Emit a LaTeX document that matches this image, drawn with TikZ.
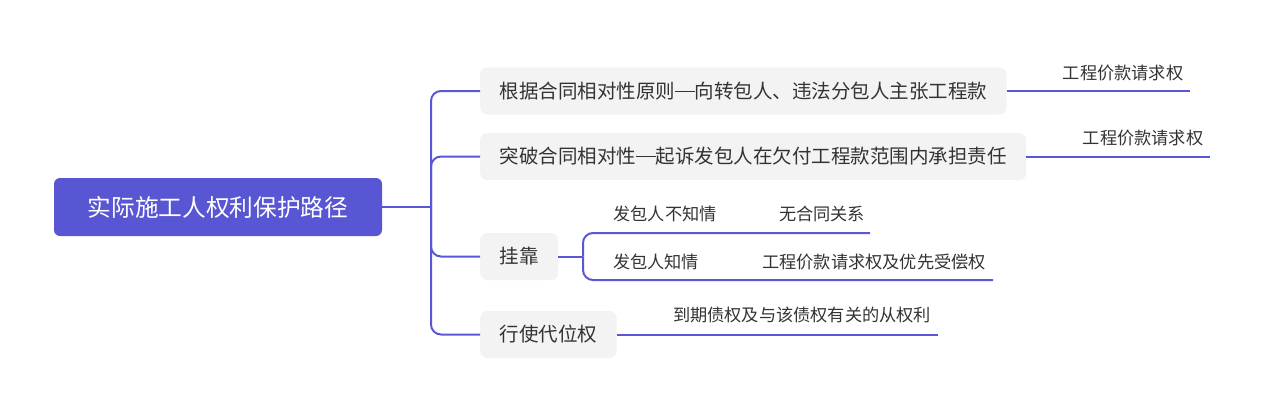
\documentclass[tikz,border=0pt]{standalone}
\usepackage{fontspec}
\setmainfont{Noto Sans CJK SC}
\definecolor{rootc}{HTML}{5956D4}
\definecolor{linec}{HTML}{5A57D6}
\definecolor{boxc}{HTML}{F3F3F3}
\definecolor{txt}{HTML}{333333}
\newcommand{\cjkdash}{\rule[0.34em]{1em}{0.065em}}
\tikzset{
  rootbox/.style={fill=rootc, rounded corners=6pt, text=white, minimum width=328pt, minimum height=58pt, inner sep=0pt, font=\fontsize{23.7}{24}\selectfont},
  topic/.style={fill=boxc, rounded corners=7pt, text=txt, minimum height=47pt, inner xsep=19.5pt, inner ysep=0pt, anchor=west, font=\fontsize{19.5}{20}\selectfont},
  leaf/.style={text=txt, inner sep=0pt, font=\fontsize{17.2}{18}\selectfont},
  conn/.style={draw=linec, line width=2pt, rounded corners=10pt},
}
\begin{document}
\begin{tikzpicture}[x=1pt,y=-1pt]
\useasboundingbox (0,0) rectangle (1264,415);
% root
\node[rootbox] (root) at (218,207) {实际施工人权利保护路径};
% topics
\node[topic] (b1) at (480,91) {根据合同相对性原则\cjkdash 向转包人、违法分包人主张工程款};
\node[topic] (b2) at (480,156.5) {突破合同相对性\cjkdash 起诉发包人在欠付工程款范围内承担责任};
\node[topic] (b3) at (480,256.5) {挂靠};
\node[topic] (b4) at (480,334.5) {行使代位权};
% trunk
\coordinate (trunk) at (431,207);
\draw[conn] (root.east) -- (trunk);
\draw[conn] (trunk) |- (b1.west);
\draw[conn] (trunk) |- (b2.west);
\draw[conn] (trunk) |- (b3.west);
\draw[conn] (trunk) |- (b4.west);
% leaves of b1, b2
\node[leaf] (l1) at (1123,73) {工程价款请求权};
\coordinate (l1e) at (1190,91);
\draw[conn] (b1.east) -- (l1e);
\node[leaf] (l2) at (1143,138) {工程价款请求权};
\coordinate (l2e) at (1210,156.5);
\draw[conn] (b2.east) -- (l2e);
% sub-branches of b3
\coordinate (j3) at (583,256.5);
\draw[conn] (b3.east) -- (j3);
\node[leaf] (s1) at (665,214) {发包人不知情};
\node[leaf] (c1) at (822,214) {无合同关系};
\coordinate (c1e) at (870,233);
\draw[conn] (j3) |- (c1e);
\node[leaf] (s2) at (656,262) {发包人知情};
\node[leaf] (c2) at (874,262) {工程价款请求权及优先受偿权};
\coordinate (c2e) at (993,280);
\draw[conn] (j3) |- (c2e);
% leaf of b4
\node[leaf] (l4) at (802,315) {到期债权及与该债权有关的从权利};
\coordinate (l4e) at (938,334.5);
\draw[conn] (b4.east) -- (l4e);
\end{tikzpicture}
\end{document}
